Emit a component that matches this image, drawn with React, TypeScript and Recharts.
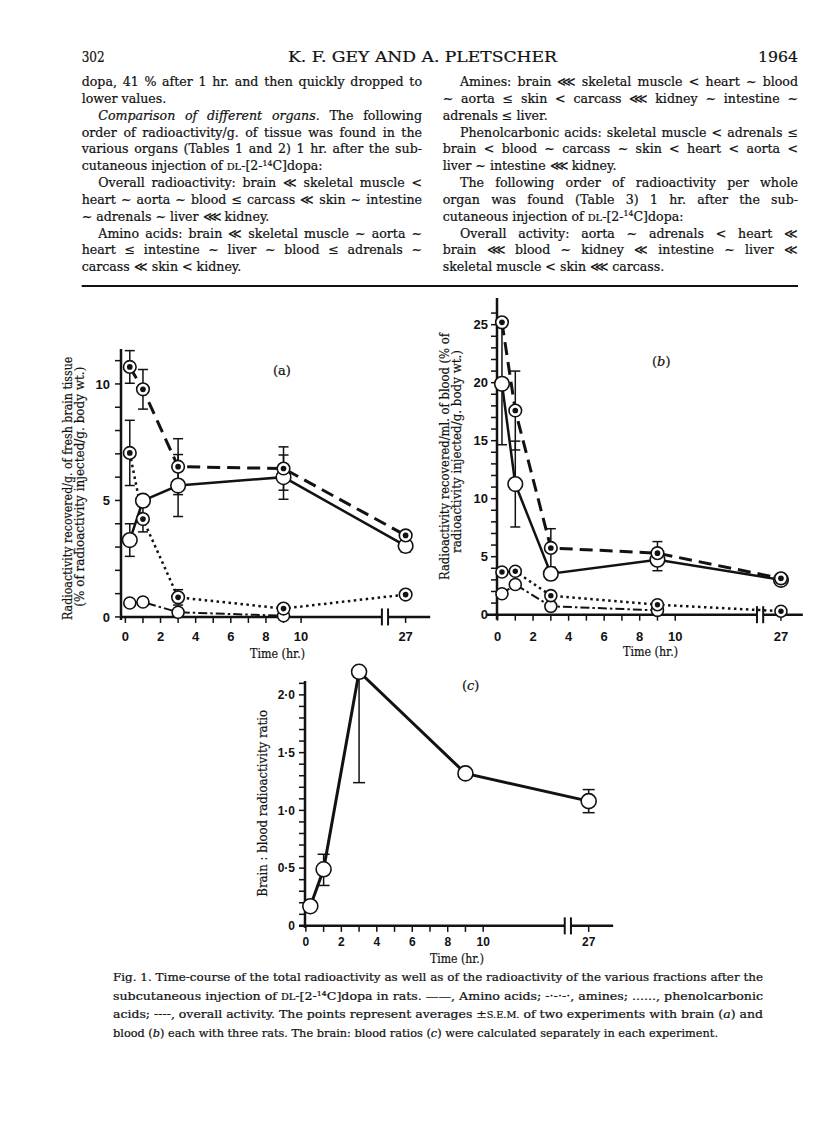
import React from 'react';
import { LineChart, Line, XAxis, YAxis, ErrorBar, ReferenceLine } from 'recharts';

// ---------------- data ----------------
const TIMES = [0.25, 1, 3, 9, 27]; // hr after injection

// (a) brain
const BRAIN_OVERALL = [10.73, 9.77, 6.45, 6.37, 3.5];
const BRAIN_OVERALL_SEM = [0.7, 0.85, 1.2, 0.93, 0];
const BRAIN_AMINO = [3.3, 4.99, 5.64, 6.0, 3.05];
const BRAIN_AMINO_SEM = [0.7, 0.25, 1.33, 0.95, 0.27];
const BRAIN_PHENOL = [7.04, 4.2, 0.84, 0.36, 0.96];
const BRAIN_PHENOL_SEM = [1.4, 0.55, 0.33, 0, 0];
const BRAIN_AMINES = [0.6, 0.64, 0.2, 0.05, null];
const BRAIN_AMINES_SEM = [0.02, 0.02, 0.02, 0.02, 0];

// (b) blood
const BLOOD_OVERALL = [25.2, 17.6, 5.75, 5.3, 3.13];
const BLOOD_OVERALL_SEM = [0, 3.4, 1.66, 1.0, 0];
const BLOOD_AMINO = [19.9, 11.26, 3.53, 4.74, 3.0];
const BLOOD_AMINO_SEM = [5.25, 3.7, 0.5, 0.95, 0];
const BLOOD_PHENOL = [3.68, 3.74, 1.64, 0.86, 0.3];
const BLOOD_PHENOL_SEM = [0, 0, 0, 0, 0];
const BLOOD_AMINES = [1.8, 2.6, 0.72, 0.37, null];
const BLOOD_AMINES_SEM = [0.3, 0.35, 0.3, 0, 0];

// (c) brain : blood ratio
const RATIO = [0.17, 0.49, 2.2, 1.32, 1.08];
const RATIO_SEM: Err[] = [0.03, [0.14, 0.13], [0.96, 0], 0.03, 0.1];

// ticks
const X_TICK_HOURS = [0, 1, 2, 3, 4, 5, 6, 7, 8, 9, 10, 27];
const X_TICK_LABELS: Record<number, string> = { 0: '0', 2: '2', 4: '4', 6: '6', 8: '8', 10: '10', 27: '27' };
const A_Y_TICKS = [0, 1, 2, 3, 4, 5, 6, 7, 8, 9, 10, 11];
const A_Y_LABELS: Record<number, string> = { 0: '0', 5: '5', 10: '10' };
const B_Y_TICKS = [0, 1, 2, 3, 4, 5, 6, 7, 8, 9, 10, 11, 12, 13, 14, 15, 16, 17, 18, 19, 20, 21, 22, 23, 24, 25, 26];
const B_Y_LABELS: Record<number, string> = { 0: '0', 5: '5', 10: '10', 15: '15', 20: '20', 25: '25' };
const C_Y_TICKS = [0, 0.1, 0.2, 0.3, 0.4, 0.5, 0.6, 0.7, 0.8, 0.9, 1, 1.1, 1.2, 1.3, 1.4, 1.5, 1.6, 1.7, 1.8, 1.9, 2, 2.1];
const C_Y_LABELS: Record<string, string> = { '0': '0', '0.5': '0·5', '1': '1·0', '1.5': '1·5', '2': '2·0' };

// ---------------- broken time axis ----------------
const BREAK_START = 14.6;
const BREAK_END = 14.95;
const POS_27 = 15.95;
const timePos = (t: number) => (t > 14 ? POS_27 + (t - 27) : t);
const X_TICKS = X_TICK_HOURS.map(timePos);
const xFmt = (v: number) => {
  const h = X_TICK_HOURS.find((hh) => Math.abs(timePos(hh) - v) < 1e-6);
  return h !== undefined && X_TICK_LABELS[h] ? X_TICK_LABELS[h] : '';
};

type Err = number | [number, number] | null;

type SeriesSpec = {
  name: string;
  values: (number | null)[];
  errors: Err[];
  dash?: string;
  width: number;
  marker: 'open' | 'dot';
  r: number;
};

const INK = '#121212';
const SERIF = "'DejaVu Serif', 'Liberation Serif', serif";
const TICKFONT = "'Liberation Sans Narrow', 'Liberation Sans', 'DejaVu Sans', sans-serif";

const makeDot = (marker: 'open' | 'dot', r: number) => (p: any) => {
  const { cx, cy, index, value } = p;
  if (cx == null || cy == null || value == null) return <g key={`d${index}`} />;
  return (
    <g key={`d${index}`}>
      <circle cx={cx} cy={cy} r={r} fill="#fff" stroke={INK} strokeWidth={1.6} />
      {marker === 'dot' && <circle cx={cx} cy={cy} r={r * 0.45} fill={INK} />}
    </g>
  );
};

type PanelProps = {
  cal: { x0: number; xPer: number; y0: number; yPer: number };
  xDomain: [number, number];
  yDomain: [number, number];
  yAxisTop: number;
  yTicks: number[];
  yFmt: (v: number) => string;
  yTickMargin: number;
  xTickMargin: number;
  extLeftPx: number;
  extDownPx: number;
  capW: number;
  tickSize: number;
  series: SeriesSpec[];
};

function Panel(props: PanelProps) {
  const { cal, xDomain, yDomain, yAxisTop, yTicks, yFmt, yTickMargin, xTickMargin, extLeftPx, extDownPx, capW, tickSize, series } = props;
  const l = cal.x0 + xDomain[0] * cal.xPer;
  const r = cal.x0 + xDomain[1] * cal.xPer;
  const b = cal.y0 - yDomain[0] * cal.yPer;
  const t = cal.y0 - yDomain[1] * cal.yPer;
  const PAD_L = 60, PAD_T = 15, PAD_R = 15, PAD_B = 45, Y_W = 45, X_H = 35;
  const width = r - l + PAD_L + PAD_R;
  const height = b - t + PAD_T + PAD_B;

  const rows = TIMES.map((tm, i) => {
    const row: Record<string, any> = { x: timePos(tm) };
    series.forEach((s) => {
      row[s.name] = s.values[i];
      const e = s.errors[i];
      const oneSided = Array.isArray(e) && (e[0] === 0 || e[1] === 0);
      row[s.name + '_eu'] = e && oneSided ? e : null;
      row[s.name + '_et'] = e && !oneSided ? e : null;
    });
    return row;
  });

  const markH = 8.5 / cal.yPer;
  const extL = extLeftPx / cal.xPer;
  const extD = extDownPx / cal.yPer;
  const tickStyle = { fill: INK, fontSize: tickSize, fontFamily: TICKFONT, fontWeight: 700 };

  return (
    <div style={{ position: 'absolute', left: l - PAD_L, top: t - PAD_T }}>
      <LineChart width={width} height={height} data={rows} margin={{ top: PAD_T, right: PAD_R, left: PAD_L - Y_W, bottom: PAD_B - X_H }}>
        <XAxis
          type="number"
          dataKey="x"
          domain={xDomain}
          ticks={X_TICKS}
          interval={0}
          tickFormatter={xFmt}
          axisLine={false}
          tickLine={{ stroke: INK, strokeWidth: 1.5 }}
          tickSize={6}
          tickMargin={xTickMargin}
          height={X_H}
          tick={tickStyle}
        />
        <YAxis
          type="number"
          domain={yDomain}
          ticks={yTicks}
          interval={0}
          tickFormatter={yFmt}
          axisLine={false}
          tickLine={{ stroke: INK, strokeWidth: 1.5 }}
          tickSize={6}
          tickMargin={yTickMargin}
          width={Y_W}
          tick={tickStyle}
        />
        <ReferenceLine ifOverflow="visible" segment={[{ x: xDomain[0] - extL, y: 0 }, { x: BREAK_START, y: 0 }]} stroke={INK} strokeWidth={2.5} />
        <ReferenceLine ifOverflow="visible" segment={[{ x: BREAK_END, y: 0 }, { x: xDomain[1], y: 0 }]} stroke={INK} strokeWidth={2.5} />
        <ReferenceLine ifOverflow="visible" segment={[{ x: BREAK_START, y: -markH }, { x: BREAK_START, y: markH }]} stroke={INK} strokeWidth={2} />
        <ReferenceLine ifOverflow="visible" segment={[{ x: BREAK_END, y: -markH }, { x: BREAK_END, y: markH }]} stroke={INK} strokeWidth={2} />
        <ReferenceLine ifOverflow="visible" segment={[{ x: xDomain[0], y: -extD }, { x: xDomain[0], y: yAxisTop }]} stroke={INK} strokeWidth={2.5} />
        {series.map((s) => (
          <Line
            key={s.name}
            type="linear"
            dataKey={s.name}
            stroke={INK}
            strokeWidth={s.width}
            strokeDasharray={s.dash}
            dot={makeDot(s.marker, s.r)}
            activeDot={false}
            connectNulls={false}
            isAnimationActive={false}
          >
            <ErrorBar dataKey={s.name + '_eu'} width={capW} strokeWidth={1.5} stroke={INK} direction="y" />
          </Line>
        ))}
        {series.map((s) => (
          <Line
            key={s.name + '_top'}
            type="linear"
            dataKey={s.name}
            stroke="none"
            strokeWidth={0}
            dot={false}
            activeDot={false}
            legendType="none"
            isAnimationActive={false}
          >
            <ErrorBar dataKey={s.name + '_et'} width={capW} strokeWidth={1.5} stroke={INK} direction="y" />
          </Line>
        ))}
      </LineChart>
    </div>
  );
}

const DASH_OVERALL = '13 7';
const DASH_PHENOL = '2.5 3.5';
const DASH_AMINES = '9 3 2.5 3';

const brainSeries: SeriesSpec[] = [
  { name: 'amines', values: BRAIN_AMINES, errors: BRAIN_AMINES_SEM, dash: DASH_AMINES, width: 2, marker: 'open', r: 6 },
  { name: 'phenol', values: BRAIN_PHENOL, errors: BRAIN_PHENOL_SEM, dash: DASH_PHENOL, width: 2.5, marker: 'dot', r: 6.3 },
  { name: 'amino', values: BRAIN_AMINO, errors: BRAIN_AMINO_SEM, width: 2.5, marker: 'open', r: 7.3 },
  { name: 'overall', values: BRAIN_OVERALL, errors: BRAIN_OVERALL_SEM, dash: DASH_OVERALL, width: 3, marker: 'dot', r: 6.3 },
];
const bloodSeries: SeriesSpec[] = [
  { name: 'amines', values: BLOOD_AMINES, errors: BLOOD_AMINES_SEM, dash: DASH_AMINES, width: 2, marker: 'open', r: 6 },
  { name: 'phenol', values: BLOOD_PHENOL, errors: BLOOD_PHENOL_SEM, dash: DASH_PHENOL, width: 2.5, marker: 'dot', r: 6 },
  { name: 'amino', values: BLOOD_AMINO, errors: BLOOD_AMINO_SEM, width: 2.5, marker: 'open', r: 7.3 },
  { name: 'overall', values: BLOOD_OVERALL, errors: BLOOD_OVERALL_SEM, dash: DASH_OVERALL, width: 3, marker: 'dot', r: 6.3 },
];
const ratioSeries: SeriesSpec[] = [
  { name: 'ratio', values: RATIO, errors: RATIO_SEM, width: 3, marker: 'open', r: 7.5 },
];

const labelFmt = (map: Record<number, string>) => (v: number) => map[v] ?? '';
const cFmt = (v: number) => C_Y_LABELS[String(Math.round(v * 10) / 10)] ?? '';

// ---------------- page text ----------------
const BODY = 12.6;
const LINE0 = 86.2;
const STEP = 16.82;
const LX = 81.7, LXI = 98.3, LR = 422;
const RX = 442.7, RXI = 460, RR = 798;

let measureCtx: CanvasRenderingContext2D | null = null;
function measure(text: string, size: number): number {
  if (typeof document === 'undefined') return text.length * size * 0.55;
  if (!measureCtx) measureCtx = document.createElement('canvas').getContext('2d');
  if (!measureCtx) return text.length * size * 0.55;
  measureCtx.font = `${size}px 'DejaVu Serif', 'Liberation Serif', serif`;
  return measureCtx.measureText(text).width;
}

function TL({ x, y, w, size = BODY, children, plain, squeeze }: any) {
  const extra: any = {};
  if (w) {
    const txt: string = plain ?? (typeof children === 'string' ? children : '');
    const nat = txt ? measure(txt, size) : w;
    const spaces = (txt.match(/ /g) || []).length;
    if (nat < w && spaces > 0 && !squeeze) {
      extra.wordSpacing = (w - nat) / spaces;
      extra.textLength = w;
      extra.lengthAdjust = 'spacing';
    } else {
      extra.textLength = w;
      extra.lengthAdjust = squeeze ? 'spacingAndGlyphs' : 'spacing';
    }
  }
  return (
    <text x={x} y={y} fontSize={size} fontFamily={SERIF} fill={INK} stroke={INK} strokeWidth={0.22} {...extra}>
      {children}
    </text>
  );
}
const SC = ({ children, size = BODY }: any) => <tspan fontSize={size * 0.78}>{children}</tspan>;
const C14 = ({ size = BODY }: any) => (
  <>
    <tspan fontSize={size * 0.62} dy={-size * 0.36}>14</tspan>
    <tspan dy={size * 0.36}>C]dopa</tspan>
  </>
);
const ly = (i: number) => LINE0 + i * STEP;

function VLabel({ xc, yTop, yBottom, size = 12.4, children }: any) {
  return (
    <text
      transform={`translate(${xc + size * 0.36},${yBottom}) rotate(-90)`}
      fontSize={size}
      fontFamily={SERIF}
      fill={INK}
      stroke={INK}
      strokeWidth={0.2}
      textLength={yBottom - yTop}
      lengthAdjust="spacingAndGlyphs"
    >
      {children}
    </text>
  );
}

const CAP = 10.8;
const CAPX = 113, CAPR = 763;
const cy0 = 981, cstep = 18.6;

export default function App() {
  return (
    <div style={{ position: 'absolute', left: 0, top: 0, width: 816, height: 1138, background: '#fff', overflow: 'hidden' }}>
      <svg width={816} height={1138} style={{ position: 'absolute', left: 0, top: 0 }}>
        {/* running head */}
        <TL x={LX} y={61.8} w={23} size={15} squeeze>302</TL>
        <TL x={288} y={61.8} w={269} size={14.5} squeeze>K. F. GEY AND A. PLETSCHER</TL>
        <TL x={758} y={61.8} w={40} size={15} squeeze>1964</TL>

        {/* left column */}
        <TL x={LX} y={ly(0)} w={LR - LX}>dopa, 41 % after 1 hr. and then quickly dropped to</TL>
        <TL x={LX} y={ly(1)}>lower values.</TL>
        <TL x={LXI} y={ly(2)} w={LR - LXI} plain="Comparison of different organs. The following"><tspan fontStyle="italic">Comparison of different organs.</tspan> The following</TL>
        <TL x={LX} y={ly(3)} w={LR - LX}>order of radioactivity/g. of tissue was found in the</TL>
        <TL x={LX} y={ly(4)} w={LR - LX}>various organs (Tables 1 and 2) 1 hr. after the sub-</TL>
        <TL x={LX} y={ly(5)}>cutaneous injection of <SC>DL</SC>-[2-<C14 />:</TL>
        <TL x={LXI} y={ly(6)} w={LR - LXI}>Overall radioactivity: brain ≪ skeletal muscle &lt;</TL>
        <TL x={LX} y={ly(7)} w={LR - LX}>heart ∼ aorta ∼ blood ≤ carcass ≪ skin ∼ intestine</TL>
        <TL x={LX} y={ly(8)}>∼ adrenals ∼ liver ⋘ kidney.</TL>
        <TL x={LXI} y={ly(9)} w={LR - LXI}>Amino acids: brain ≪ skeletal muscle ∼ aorta ∼</TL>
        <TL x={LX} y={ly(10)} w={LR - LX}>heart ≤ intestine ∼ liver ∼ blood ≤ adrenals ∼</TL>
        <TL x={LX} y={ly(11)}>carcass ≪ skin &lt; kidney.</TL>

        {/* right column */}
        <TL x={RXI} y={ly(0)} w={RR - RXI}>Amines: brain ⋘ skeletal muscle &lt; heart ∼ blood</TL>
        <TL x={RX} y={ly(1)} w={RR - RX}>∼ aorta ≤ skin &lt; carcass ⋘ kidney ∼ intestine ∼</TL>
        <TL x={RX} y={ly(2)}>adrenals ≤ liver.</TL>
        <TL x={RXI} y={ly(3)} w={RR - RXI}>Phenolcarbonic acids: skeletal muscle &lt; adrenals ≤</TL>
        <TL x={RX} y={ly(4)} w={RR - RX}>brain &lt; blood ∼ carcass ∼ skin &lt; heart &lt; aorta &lt;</TL>
        <TL x={RX} y={ly(5)}>liver ∼ intestine ⋘ kidney.</TL>
        <TL x={RXI} y={ly(6)} w={RR - RXI}>The following order of radioactivity per whole</TL>
        <TL x={RX} y={ly(7)} w={RR - RX}>organ was found (Table 3) 1 hr. after the sub-</TL>
        <TL x={RX} y={ly(8)}>cutaneous injection of <SC>DL</SC>-[2-<C14 />:</TL>
        <TL x={RXI} y={ly(9)} w={RR - RXI}>Overall activity: aorta ∼ adrenals &lt; heart ≪</TL>
        <TL x={RX} y={ly(10)} w={RR - RX}>brain ⋘ blood ∼ kidney ≪ intestine ∼ liver ≪</TL>
        <TL x={RX} y={ly(11)}>skeletal muscle &lt; skin ⋘ carcass.</TL>

        <line x1={LX} x2={RR} y1={286} y2={286} stroke={INK} strokeWidth={1.8} />

        {/* panel labels */}
        <TL x={273} y={374.5} size={13}>(a)</TL>
        <TL x={652} y={366} size={13}>(<tspan fontStyle="italic">b</tspan>)</TL>
        <TL x={462} y={689.5} size={13}>(<tspan fontStyle="italic">c</tspan>)</TL>

        {/* axis titles */}
        <TL x={250} y={657.5} w={55} size={12.5} squeeze>Time (hr.)</TL>
        <TL x={623} y={656} w={55} size={12.5} squeeze>Time (hr.)</TL>
        <TL x={430} y={962.5} w={54} size={12.5} squeeze>Time (hr.)</TL>

        <VLabel xc={68} yTop={356.7} yBottom={620}>Radioactivity recovered/g. of fresh brain tissue</VLabel>
        <VLabel xc={80} yTop={366.7} yBottom={606.7}>(% of radioactivity injected/g. body wt.)</VLabel>
        <VLabel xc={445} yTop={333} yBottom={580}>Radioactivity recovered/ml. of blood (% of</VLabel>
        <VLabel xc={456.7} yTop={350} yBottom={553}>radioactivity injected/g. body wt.)</VLabel>
        <VLabel xc={262.7} yTop={710} yBottom={896.7}>Brain : blood radioactivity ratio</VLabel>

        {/* caption */}
        <TL x={CAPX} y={cy0} w={CAPR - CAPX} size={CAP} squeeze>Fig. 1. Time-course of the total radioactivity as well as of the radioactivity of the various fractions after the</TL>
        <TL x={CAPX} y={cy0 + cstep} w={CAPR - CAPX} size={CAP} squeeze>subcutaneous injection of <SC size={CAP}>DL</SC>-[2-<C14 size={CAP} /> in rats. ——, Amino acids; -·-·-·, amines; ......, phenolcarbonic</TL>
        <TL x={CAPX} y={cy0 + 2 * cstep} w={CAPR - CAPX} size={CAP} squeeze>acids; ----, overall activity. The points represent averages ±<SC size={CAP}>S.E.M.</SC> of two experiments with brain (<tspan fontStyle="italic">a</tspan>) and</TL>
        <TL x={CAPX} y={cy0 + 3 * cstep} w={605} size={CAP} squeeze>blood (<tspan fontStyle="italic">b</tspan>) each with three rats. The brain: blood ratios (<tspan fontStyle="italic">c</tspan>) were calculated separately in each experiment.</TL>
      </svg>

      <Panel
        cal={{ x0: 125, xPer: 17.57, y0: 617.3, yPer: 23.3 }}
        xDomain={[-0.25, 17.35]}
        yDomain={[0, 11.5]}
        yAxisTop={11.5}
        yTicks={A_Y_TICKS}
        yFmt={labelFmt(A_Y_LABELS)}
        yTickMargin={5}
        xTickMargin={9}
        extLeftPx={0}
        extDownPx={3}
        capW={5}
        tickSize={13}
        series={brainSeries}
      />
      <Panel
        cal={{ x0: 497.3, xPer: 17.77, y0: 615, yPer: 11.6 }}
        xDomain={[-0.03, 17.18]}
        yDomain={[0, 27.3]}
        yAxisTop={27.3}
        yTicks={B_Y_TICKS}
        yFmt={labelFmt(B_Y_LABELS)}
        yTickMargin={3}
        xTickMargin={11}
        extLeftPx={10}
        extDownPx={5}
        capW={5}
        tickSize={13}
        series={bloodSeries}
      />
      <Panel
        cal={{ x0: 306, xPer: 17.73, y0: 925.7, yPer: 115.5 }}
        xDomain={[-0.05, 17.33]}
        yDomain={[0, 2.25]}
        yAxisTop={2.12}
        yTicks={C_Y_TICKS}
        yFmt={cFmt}
        yTickMargin={4}
        xTickMargin={6}
        extLeftPx={6}
        extDownPx={2}
        capW={6}
        tickSize={12}
        series={ratioSeries}
      />
    </div>
  );
}
